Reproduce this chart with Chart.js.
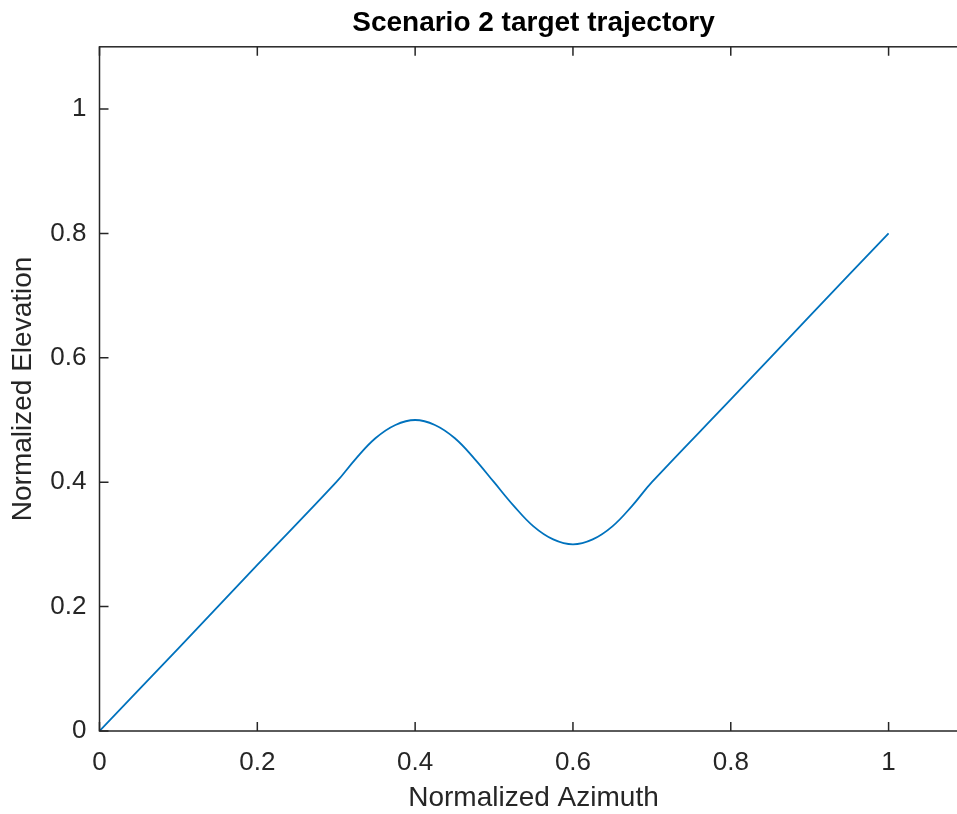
<!DOCTYPE html>
<html lang="en">
  <head>
    <meta charset="UTF-8" />
    <title>Scenario 2 target trajectory</title>
    <style>
      html, body { margin: 0; padding: 0; background: #fff; overflow: hidden; }
      #wrap { width: 980px; height: 814px; }
    </style>
  </head>
  <body>
    <div id="wrap"><canvas id="trajChart" width="980" height="814"></canvas></div>
    <script src="https://cdn.jsdelivr.net/npm/chart.js"></script>
    <script>
      // trajectory
      const azimuth = [0, 0.1, 0.2, 0.3, 0.325, 0.35, 0.375, 0.4, 0.425, 0.45, 0.475, 0.5,
        0.525, 0.55, 0.575, 0.6, 0.625, 0.65, 0.675, 0.7, 0.8, 0.9, 1.0];
      const elevation = [0, 0.133, 0.267, 0.4, 0.438, 0.471, 0.492, 0.5, 0.492, 0.471, 0.438, 0.4,
        0.362, 0.329, 0.308, 0.3, 0.308, 0.329, 0.362, 0.4, 0.533, 0.667, 0.8];
      const xTicks = [0, 0.2, 0.4, 0.6, 0.8, 1];
      const yTicks = [0, 0.2, 0.4, 0.6, 0.8, 1];

      const axisColor = '#262626';
      const tickFont = { family: 'Liberation Sans, Arial, sans-serif', size: 26 };
      const labelFont = { family: 'Liberation Sans, Arial, sans-serif', size: 28, lineHeight: 1 };

      // MATLAB-like box with inward ticks
      const boxPlugin = {
        id: 'box',
        afterDraw(chart) {
          const { ctx, chartArea: a } = chart;
          const xs = chart.scales.x, ys = chart.scales.y;
          const len = 9;
          ctx.save();
          ctx.strokeStyle = axisColor;
          ctx.lineWidth = 1.5;
          ctx.strokeRect(a.left, a.top, a.right - a.left, a.bottom - a.top);
          ctx.beginPath();
          xTicks.forEach((v) => {
            const px = xs.getPixelForValue(v);
            ctx.moveTo(px, a.bottom); ctx.lineTo(px, a.bottom - len);
            ctx.moveTo(px, a.top); ctx.lineTo(px, a.top + len);
          });
          yTicks.forEach((v) => {
            const py = ys.getPixelForValue(v);
            ctx.moveTo(a.left, py); ctx.lineTo(a.left + len, py);
            ctx.moveTo(a.right, py); ctx.lineTo(a.right - len, py);
          });
          ctx.stroke();
          ctx.restore();
        },
      };

      const chart = new Chart(document.getElementById('trajChart').getContext('2d'), {
        type: 'line',
        data: {
          datasets: [
            {
              data: azimuth.map((x, i) => ({ x: x, y: elevation[i] })),
              borderColor: '#0072BD',
              borderWidth: 1.8,
              pointRadius: 0,
              fill: false,
              tension: 0.4,
            },
          ],
        },
        options: {
          responsive: false,
          animation: false,
          layout: { padding: { left: 0, right: 12.5, top: 0, bottom: 0 } },
          plugins: {
            legend: { display: false },
            tooltip: { enabled: false },
            title: {
              display: true,
              text: 'Scenario 2 target trajectory',
              color: '#000',
              fullSize: false,
              font: { family: 'Liberation Sans, Arial, sans-serif', size: 28, weight: 'bold', lineHeight: 1.2 },
              padding: { top: 6, bottom: 7.2 },
            },
          },
          scales: {
            x: {
              type: 'linear',
              min: 0,
              max: 1.1,
              grid: { display: false, drawTicks: false },
              border: { display: false },
              afterBuildTicks: (s) => { s.ticks = xTicks.map((v) => ({ value: v })); },
              afterFit: (s) => { s.height = 83; },
              ticks: {
                color: axisColor,
                font: tickFont,
                padding: 16,
                maxRotation: 0,
                autoSkip: false,
                callback: (v) => String(v),
              },
              title: {
                display: true,
                text: 'Normalized Azimuth',
                color: axisColor,
                font: labelFont,
                padding: { top: 0, bottom: 2 },
              },
            },
            y: {
              type: 'linear',
              min: 0,
              max: 1.1,
              grid: { display: false, drawTicks: false },
              border: { display: false },
              afterBuildTicks: (s) => { s.ticks = yTicks.map((v) => ({ value: v })); },
              afterFit: (s) => { s.width = 99.5; },
              ticks: {
                color: axisColor,
                font: tickFont,
                padding: 13,
                autoSkip: false,
                callback: (v) => String(v),
              },
              title: {
                display: true,
                text: 'Normalized Elevation',
                color: axisColor,
                font: labelFont,
                padding: { top: 9, bottom: 0 },
              },
            },
          },
        },
        plugins: [boxPlugin],
      });
    </script>
  </body>
</html>
